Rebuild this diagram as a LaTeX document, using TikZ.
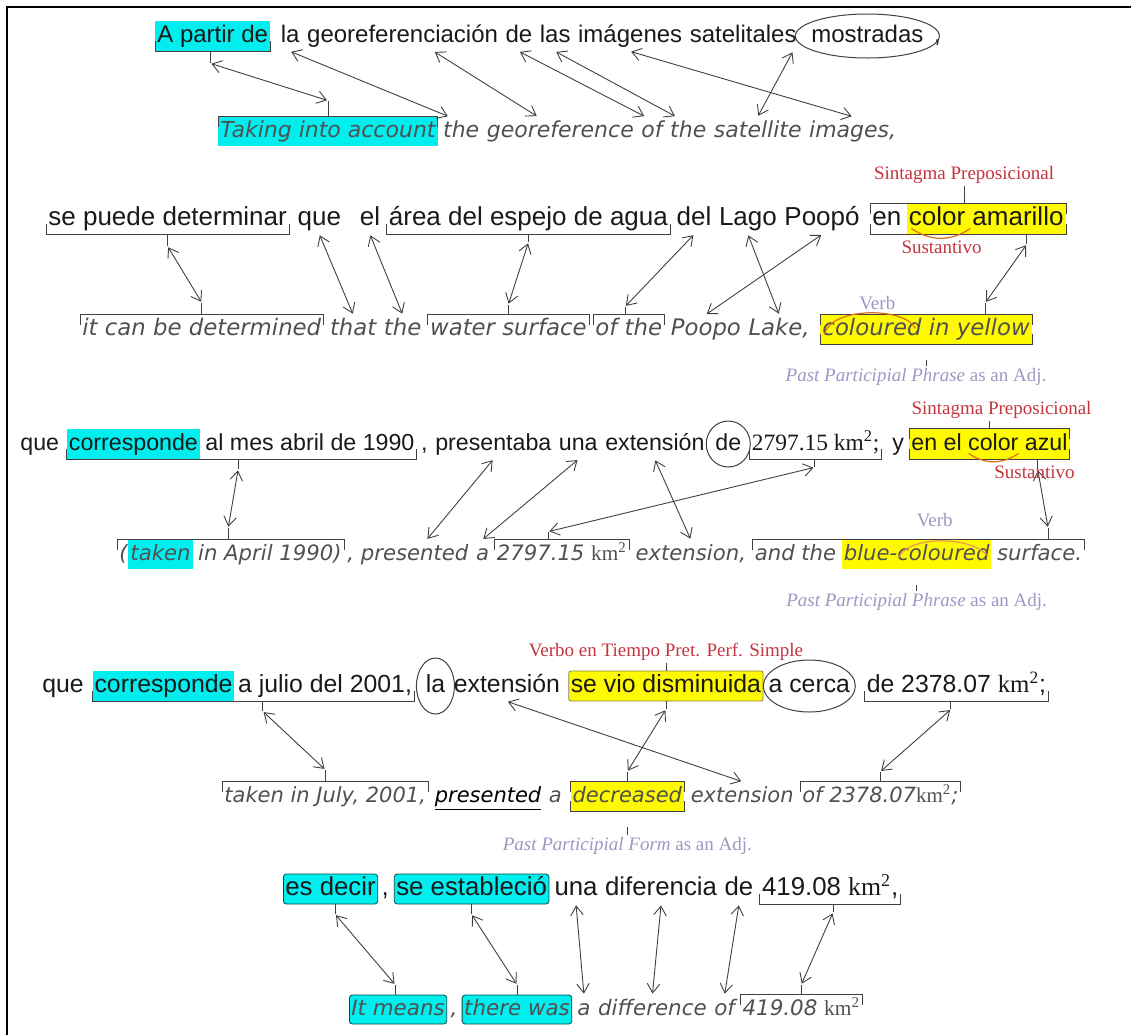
\documentclass[tikz,border=0pt]{standalone}
\usepackage{fontspec}
\usepackage{tikz}
\usetikzlibrary{positioning,arrows.meta,calc}
\setmainfont{Liberation Sans}
\newfontfamily\esfont{Liberation Sans}
\newfontfamily\enfont{DejaVu Sans}
\newfontfamily\lbfont{Liberation Serif}
\definecolor{hlcyan}{RGB}{0,238,238}
\definecolor{hlyel}{RGB}{255,250,0}
\definecolor{redlbl}{RGB}{196,52,62}
\definecolor{violbl}{RGB}{160,150,195}
\definecolor{enclr}{RGB}{80,80,80}
\definecolor{orng}{RGB}{220,110,20}
\newcommand{\kmsq}{{\lbfont\upshape km\textsuperscript{2}}}
\newcommand{\ubrk}[2]{\draw[brk] ([yshift=5pt]#1.south west) |- (#2.south east) -- ++(0,5pt);}
\newcommand{\obrk}[2]{\draw[brk] ([yshift=-5pt]#1.north west) |- (#2.north east) -- ++(0,-5pt);}
\newcommand{\tickdn}[5]{\draw[brk] ($(#1.south west)!#3!(#2.south east)$) -- ++(0,-#4) coordinate (#5);}
\newcommand{\tickup}[5]{\draw[brk] ($(#1.north west)!#3!(#2.north east)$) -- ++(0,#4) coordinate (#5);}

\begin{document}
\begin{tikzpicture}[x=0.5pt,y=-0.5pt,
  spa/.style={font=\esfont\fontsize{#1}{#1}\selectfont,text=black!90,inner xsep=1pt,inner ysep=1.5pt,text height=9pt,text depth=3pt},
  spa/.default=12,
  eng/.style={font=\enfont\itshape\fontsize{#1}{#1}\selectfont,text=enclr,inner xsep=1pt,inner ysep=1.5pt,text height=8.5pt,text depth=3pt},
  eng/.default=11,
  hlc/.style={fill=hlcyan},
  hlcb/.style={fill=hlcyan,draw=teal!60!black,rounded corners=1.5pt,line width=0.4pt},
  hly/.style={fill=hlyel},
  brk/.style={draw=black!75,line width=0.45pt},
  lnk/.style={brk,{Straight Barb[length=1.6mm,width=2.2mm]}-{Straight Barb[length=1.6mm,width=2.2mm]},shorten <=0.5pt,shorten >=0.5pt},
  tagr/.style={font=\lbfont\fontsize{9.5}{11}\selectfont,text=redlbl,inner sep=1pt},
  tagv/.style={font=\lbfont\fontsize{9.5}{11}\selectfont,text=violbl,inner sep=1pt},
  ring/.style={draw=black!75,line width=0.5pt},
  smile/.style={draw=orng,line width=0.6pt}]
\useasboundingbox (0,0) rectangle (1131,1035);
\draw[line width=0.9pt] (7,1035) -- (7,7) -- (1131,7);

% sentence 1
\node[spa,hlc,anchor=base west] (A1) at (155,42) {A partir de};
\node[spa,base right=4pt of A1] (A2) {la};
\node[spa,base right=1.4pt of A2] (A3) {georeferenciación};
\node[spa,base right=1.4pt of A3] (A4) {de};
\node[spa,base right=1.4pt of A4] (A5) {las};
\node[spa,base right=1.4pt of A5] (A6) {imágenes};
\node[spa,base right=1.4pt of A6] (A7) {satelitales};
\node[spa,base right=5pt of A7] (A8) {mostradas};
\node[spa,base right=3pt of A8] (A9) {,};
\draw[ring] (A8.center) ellipse [x radius=36pt,y radius=11pt];
\node[eng,hlc,anchor=base west] (B1) at (218,137) {Taking into account};
\node[eng,base right=1.4pt of B1] (B2) {the};
\node[eng,base right=1.4pt of B2] (B3) {georeference};
\node[eng,base right=1.4pt of B3] (B4) {of};
\node[eng,base right=1.4pt of B4] (B5) {the};
\node[eng,base right=1.4pt of B5] (B6) {satellite};
\node[eng,base right=1.4pt of B6] (B7) {images,};
\ubrk{A1}{A1} \tickdn{A1}{A1}{0.48}{6pt}{a1}
\obrk{B1}{B1} \tickup{B1}{B1}{0.5}{8pt}{b1}
\draw[lnk] (a1) -- (b1);
\draw[lnk] (A2.south) -- ([xshift=4pt]B2.north west);
\draw[lnk] ($(A3.south west)!0.66!(A3.south east)$) -- ($(B3.north west)!0.35!(B3.north east)$);
\draw[lnk] (A4.south) -- ([xshift=3pt]B4.north west);
\draw[lnk] (A5.south) -- ([xshift=4pt]B5.north west);
\draw[lnk] (A6.south) -- (B7.north);
\draw[lnk] ([xshift=-3pt]A7.south east) -- (B6.north);

% sentence 2
\node[spa=13,anchor=base west] (C1) at (46,225) {se puede determinar};
\node[spa=13,base right=3pt of C1] (C2) {que};
\node[spa=13,base right=7pt of C2] (C3) {el};
\node[spa=13,base right=2pt of C3] (C4) {área del espejo de agua};
\node[spa=13,base right=2pt of C4] (C5) {del};
\node[spa=13,base right=1.4pt of C5] (C6) {Lago};
\node[spa=13,base right=1.4pt of C6] (C7) {Poopó};
\node[spa=13,base right=4pt of C7] (C8) {en};
\node[spa=13,hly,base right=1.4pt of C8] (C9) {color amarillo};
\node[eng=11.4,anchor=base west] (D1) at (80,335) {it can be determined};
\node[eng=11.4,base right=2pt of D1] (D2) {that};
\node[eng=11.4,base right=1.4pt of D2] (D3) {the};
\node[eng=11.4,base right=2pt of D3] (D4) {water surface};
\node[eng=11.4,base right=2pt of D4] (D5) {of the};
\node[eng=11.4,base right=2pt of D5] (D6) {Poopo};
\node[eng=11.4,base right=1.4pt of D6] (D7) {Lake,};
\node[eng=11.4,hly,base right=4pt of D7] (D8) {coloured in yellow};
\ubrk{C1}{C1} \tickdn{C1}{C1}{0.5}{6pt}{c1}
\ubrk{C4}{C4} \tickdn{C4}{C4}{0.5}{4pt}{c4}
\ubrk{C8}{C9} \obrk{C8}{C9}
\tickup{C8}{C9}{0.48}{9pt}{c8u} \tickdn{C8}{C9}{0.8}{5pt}{c8}
\obrk{D1}{D1} \tickup{D1}{D1}{0.5}{6pt}{d1}
\obrk{D4}{D4} \tickup{D4}{D4}{0.5}{5pt}{d4}
\obrk{D5}{D5} \tickup{D5}{D5}{0.45}{4pt}{d5}
\obrk{D8}{D8} \ubrk{D8}{D8} \tickup{D8}{D8}{0.78}{6pt}{d8}
\draw[lnk] (c1) -- (d1);
\draw[lnk] (C2.south) -- (D2.north);
\draw[lnk] (C3.south) -- (D3.north);
\draw[lnk] (c4) -- (d4);
\draw[lnk] (C5.south) -- (d5);
\draw[lnk] (C6.south) -- (D7.north);
\draw[lnk] (C7.south) -- (D6.north);
\draw[lnk] (c8) -- (d8);
\node[tagr,anchor=south] (sp1) at (c8u) {Sintagma Preposicional};
\node[tagr,anchor=north] (sus1) at ($(C9.south west)!0.22!(C9.south east)+(0,-2pt)$) {Sustantivo};
\draw[smile] ($(C9.south west)!0.03!(C9.south east)+(0,3pt)$) to[bend right=35] ($(C9.south west)!0.4!(C9.south east)+(0,3pt)$);
\node[tagv,anchor=south] (vb1) at ($(D8.north west)!0.27!(D8.north east)+(0,1pt)$) {Verb};
\draw[smile] ($(D8.south west)!0.02!(D8.south east)+(0,5pt)$) .. controls ($(D8.north west)!0.05!(D8.north east)+(0,4pt)$) and ($(D8.north west)!0.4!(D8.north east)+(0,4pt)$) .. ($(D8.south west)!0.45!(D8.south east)+(0,8pt)$);
\node[tagv,anchor=north] (pp1) at ($(D8.south)+(-5pt,-11pt)$) {\textit{Past Participial Phrase} as an Adj.};
\draw[brk] ([xshift=5pt]pp1.north) -- ++(0,3pt);

% sentence 3
\node[spa=11.6,anchor=base west] (E1) at (18,450) {que};
\node[spa=11.6,hlc,base right=2.5pt of E1] (E2) {corresponde};
\node[spa=11.6,base right=1.4pt of E2] (E3) {al mes abril de 1990};
\node[spa=11.6,base right=1pt of E3] (E4) {,};
\node[spa=11.6,base right=1.4pt of E4] (E5) {presentaba};
\node[spa=11.6,base right=1.4pt of E5] (E6) {una};
\node[spa=11.6,base right=1.4pt of E6] (E7) {extensión};
\node[spa=11.6,base right=3pt of E7] (E8) {de};
\node[spa,base right=3pt of E8,font=\lbfont\fontsize{11.7}{13}\selectfont] (E9) {2797.15 km\textsuperscript{2};};
\node[spa=11.6,base right=4pt of E9] (E10) {y};
\node[spa=11.6,hly,base right=1.4pt of E10] (E11) {en el color azul};
\draw[ring] (E8.center) ellipse [x radius=11pt,y radius=11.5pt];
\node[eng=10.6,anchor=base west] (F1) at (117,560) {(};
\node[eng=10.6,hlc,base right=-1pt of F1] (F2) {taken};
\node[eng=10.6,base right=1.4pt of F2] (F3) {in April 1990)};
\node[eng=10.6,base right=0.5pt of F3] (F4) {, presented};
\node[eng=10.6,base right=1.4pt of F4] (F5) {a};
\node[eng=10.6,base right=1.5pt of F5] (F6) {2797.15 \kmsq};
\node[eng=10.6,base right=2pt of F6] (F7) {extension,};
\node[eng=10.6,base right=2pt of F7] (F8) {and the};
\node[eng=10.6,hly,base right=1.4pt of F8] (F9) {blue-coloured};
\node[eng=10.6,base right=1.4pt of F9] (F10) {surface.};
\ubrk{E2}{E3} \tickdn{E2}{E3}{0.49}{5pt}{e2}
\ubrk{E9}{E9} \tickdn{E9}{E9}{0.49}{4pt}{e9}
\ubrk{E11}{E11} \obrk{E11}{E11}
\tickup{E11}{E11}{0.5}{4pt}{e11u} \tickdn{E11}{E11}{0.8}{5pt}{e11}
\obrk{F1}{F3} \tickup{F1}{F3}{0.49}{6pt}{f1}
\obrk{F6}{F6} \tickup{F6}{F6}{0.4}{4pt}{f6}
\obrk{F8}{F10} \tickup{F8}{F10}{0.89}{6pt}{f8}
\draw[lnk] (e2) -- (f1);
\draw[lnk] (E5.south) -- ($(F4.north west)!0.65!(F4.north east)$);
\draw[lnk] (E6.south) -- (F5.north);
\draw[lnk] (E7.south) -- (F7.north);
\draw[lnk] (e9) -- (f6);
\draw[lnk] (e11) -- (f8);
\node[tagr,anchor=south] (sp2) at ([xshift=6pt]e11u) {Sintagma Preposicional};
\node[tagr,anchor=north] (sus2) at ($(E11.south west)!0.78!(E11.south east)+(0,-2pt)$) {Sustantivo};
\draw[smile] ($(E11.south west)!0.37!(E11.south east)+(0,3pt)$) to[bend right=35] ($(E11.south west)!0.68!(E11.south east)+(0,3pt)$);
\node[tagv,anchor=south] (vb2) at ($(F9.north west)!0.62!(F9.north east)+(0,5pt)$) {Verb};
\draw[smile,draw=orng!70] ($(F9.south west)!0.38!(F9.south east)+(0,6pt)$) .. controls ($(F9.north west)!0.45!(F9.north east)+(0,2pt)$) and ($(F9.north west)!0.85!(F9.north east)+(0,2pt)$) .. ($(F9.south west)!0.97!(F9.south east)+(0,7pt)$);
\node[tagv,anchor=north] (pp2) at ($(F9.south)+(0,-11pt)$) {\textit{Past Participial Phrase} as an Adj.};
\draw[brk] (pp2.north) -- ++(0,3pt);

% sentence 4
\node[spa=12.4,anchor=base west] (G1) at (40,692) {que};
\node[spa=12.4,hlc,base right=3pt of G1] (G2) {corresponde};
\node[spa=12.4,base right=0.5pt of G2] (G3) {a julio del 2001,};
\node[spa=12.4,base right=4.5pt of G3] (G4) {la};
\node[spa=12.4,base right=2pt of G4] (G5) {extensión};
\node[spa=12.4,hly,draw=black!55!yellow,rounded corners=1pt,base right=3pt of G5] (G6) {se vio disminuida};
\node[spa=12.4,base right=1.4pt of G6] (G7) {a cerca};
\node[spa=12.4,base right=6pt of G7] (G8) {de 2378.07 \kmsq;};
\draw[ring] (G4.center) ellipse [x radius=9.5pt,y radius=14pt];
\draw[ring] (G7.center) ellipse [x radius=23pt,y radius=13pt];
\node[eng=10.5,anchor=base west] (H1) at (222,802) {taken in July, 2001,};
\node[eng=10.5,text=black,base right=2pt of H1] (H2) {\underline{presented}};
\node[eng=10.5,base right=1.4pt of H2] (H3) {a};
\node[eng=10.5,hly,base right=3pt of H3] (H4) {decreased};
\node[eng=10.5,base right=2pt of H4] (H5) {extension};
\node[eng=10.5,base right=2pt of H5] (H6) {of 2378.07\kmsq;};
\ubrk{G2}{G3} \tickdn{G2}{G3}{0.53}{5pt}{g2}
\tickdn{G6}{G6}{0.5}{4pt}{g6} \tickup{G6}{G6}{0.5}{4pt}{g6u}
\ubrk{G8}{G8} \tickdn{G8}{G8}{0.47}{4pt}{g8}
\obrk{H1}{H1} \tickup{H1}{H1}{0.5}{6pt}{h1}
\obrk{H4}{H4} \ubrk{H4}{H4} \tickup{H4}{H4}{0.5}{5pt}{h4}
\obrk{H6}{H6} \tickup{H6}{H6}{0.5}{5pt}{h6}
\draw[lnk] (g2) -- (h1);
\draw[lnk] (G5.south) -- (H5.north);
\draw[lnk] (g6) -- (h4);
\draw[lnk] (g8) -- (h6);
\node[tagr,anchor=south] (vt) at (g6u) {Verbo en Tiempo Pret. Perf. Simple};
\node[tagv,anchor=north] (pf) at ($(H4.south)+(0,-12pt)$) {\textit{Past Participial Form} as an Adj.};
\draw[brk] (pf.north) -- ++(0,4pt);

% sentence 5
\node[spa=12.9,hlcb,anchor=base west] (I1) at (283,895) {es decir};
\node[spa=12.9,base right=0.5pt of I1] (I2) {,};
\node[spa=12.9,hlcb,base right=1.4pt of I2] (I3) {se estableció};
\node[spa=12.9,base right=1.4pt of I3] (I4) {una};
\node[spa=12.9,base right=1.4pt of I4] (I5) {diferencia};
\node[spa=12.9,base right=1.4pt of I5] (I6) {de};
\node[spa=12.9,base right=2pt of I6] (I7) {419.08 \kmsq,};
\node[eng=10.7,hlcb,anchor=base west] (J1) at (349,1015) {It means};
\node[eng=10.7,base right=0.5pt of J1] (J2) {,};
\node[eng=10.7,hlcb,base right=1pt of J2] (J3) {there was};
\node[eng=10.7,base right=1.4pt of J3] (J4) {a};
\node[eng=10.7,base right=1.4pt of J4] (J5) {difference};
\node[eng=10.7,base right=1.4pt of J5] (J6) {of};
\node[eng=10.7,base right=1.4pt of J6] (J7) {419.08 \kmsq};
\tickdn{I1}{I1}{0.55}{5pt}{i1}
\tickdn{I3}{I3}{0.5}{5pt}{i3}
\ubrk{I7}{I7} \tickdn{I7}{I7}{0.52}{4pt}{i7}
\tickup{J1}{J1}{0.47}{5pt}{j1}
\tickup{J3}{J3}{0.5}{5pt}{j3}
\obrk{J7}{J7} \tickup{J7}{J7}{0.5}{5pt}{j7}
\draw[lnk] (i1) -- (j1);
\draw[lnk] (i3) -- (j3);
\draw[lnk] (I4.south) -- (J4.north);
\draw[lnk] (I5.south) -- (J5.north);
\draw[lnk] (I6.south) -- (J6.north);
\draw[lnk] (i7) -- (j7);
\end{tikzpicture}
\end{document}
